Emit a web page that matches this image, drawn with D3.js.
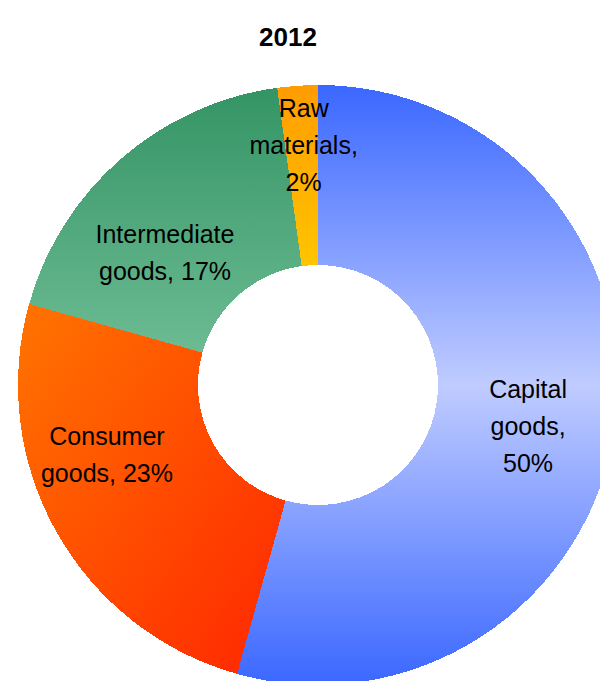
<!DOCTYPE html>
<html>
<head>
<meta charset="utf-8">
<script src="https://cdn.jsdelivr.net/npm/d3@7"></script>
<style>
  html, body { margin: 0; padding: 0; background: #fff; }
  svg { display: block; }
  text { font-family: Arial, "Liberation Sans", sans-serif; fill: #000; }
</style>
</head>
<body>
<svg id="chart" width="600" height="681"></svg>
<script>
// Export structure by product group, 2012
const title = "2012";
const categories = ["Capital goods", "Consumer goods", "Intermediate goods", "Raw materials"];
const shares = [50, 23, 17, 2];
const labelLines = [
  ["Capital", "goods,", "50%"],
  ["Consumer", "goods, 23%"],
  ["Intermediate", "goods, 17%"],
  ["Raw", "materials,", "2%"]
];

// Layout
const W = 600, H = 681;
const cx = 318, cy = 385;
const outerR = 300, innerR = 120;
const labelR = (outerR + innerR) / 2;
const lineH = 37;
// small shifts of each label block away from its slice centroid
const labelNudge = [[2, 12], [-28, -33], [-15, 26], [0, -30]];

// Slice fills: gradient stops per category
const fills = [
  { x1: 0, y1: 0, x2: 0, y2: 1, stops: [[0, "#3a67ff"], [0.5, "#c0ccff"], [1, "#3a67ff"]] },
  { x1: 0, y1: 0, x2: 1, y2: 1, stops: [[0, "#ff7400"], [1, "#ff2600"]] },
  { x1: 0, y1: 0, x2: 0, y2: 1, stops: [[0, "#349464"], [1, "#6cbb93"]] },
  { x1: 0, y1: 0, x2: 0, y2: 1, stops: [[0, "#ff9c00"], [1, "#ffc400"]] }
];

const svg = d3.select("#chart");
const defs = svg.append("defs");

fills.forEach((f, i) => {
  const g = defs.append("linearGradient")
    .attr("id", "fill" + i)
    .attr("x1", f.x1).attr("y1", f.y1)
    .attr("x2", f.x2).attr("y2", f.y2);
  f.stops.forEach(s => g.append("stop").attr("offset", s[0]).attr("stop-color", s[1]));
});

const data = categories.map((c, i) => ({ name: c, value: shares[i], idx: i }));

const pie = d3.pie().sort(null).value(d => d.value);
const arcs = pie(data);

const arc = d3.arc().innerRadius(innerR).outerRadius(outerR);
const labelArc = d3.arc().innerRadius(labelR).outerRadius(labelR);

const g = svg.append("g").attr("transform", `translate(${cx},${cy})`);

g.selectAll("path.slice")
  .data(arcs)
  .join("path")
  .attr("class", "slice")
  .attr("d", arc)
  .attr("fill", d => `url(#fill${d.data.idx})`)
  .attr("shape-rendering", "crispEdges");

// Data labels
const labels = g.selectAll("text.lbl")
  .data(arcs)
  .join("text")
  .attr("class", "lbl")
  .attr("text-anchor", "middle")
  .style("font-size", "25px")
  .attr("transform", d => {
    const [x, y] = labelArc.centroid(d);
    const [dx, dy] = labelNudge[d.data.idx];
    return `translate(${x + dx},${y + dy})`;
  });

labels.each(function(d) {
  const lines = labelLines[d.data.idx];
  const t = d3.select(this);
  const y0 = -((lines.length - 1) * lineH) / 2 + 9;
  lines.forEach((ln, k) => {
    t.append("tspan").attr("x", 0).attr("y", y0 + k * lineH).text(ln);
  });
});

// Title
svg.append("text")
  .attr("x", 288)
  .attr("y", 46)
  .attr("text-anchor", "middle")
  .style("font-size", "26px")
  .style("font-weight", "bold")
  .text(title);
</script>
</body>
</html>
